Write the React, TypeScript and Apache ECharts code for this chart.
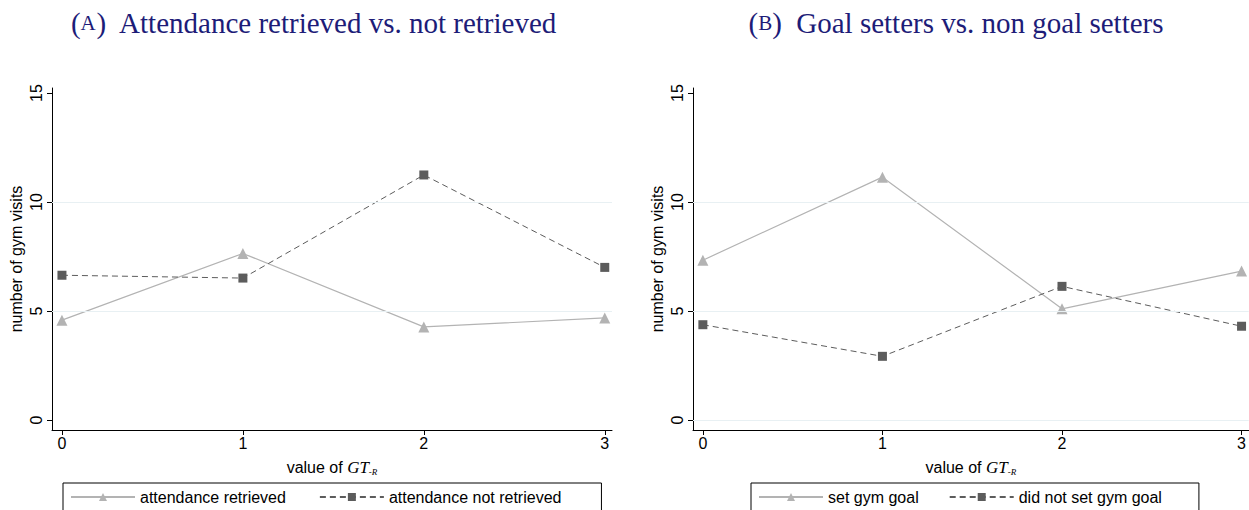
import React, { useEffect, useRef } from "react";
import * as echarts from "echarts";

const xValues = [0, 1, 2, 3];
const xTickLabels = ["0", "1", "2", "3"];
const yTickValues = [0, 5, 10, 15];

const panelATitle = "Attendance retrieved vs. not retrieved";
const panelBTitle = "Goal setters vs. non goal setters";

const retrievedName = "attendance retrieved";
const notRetrievedName = "attendance not retrieved";
const retrieved = [4.58, 7.64, 4.27, 4.68];
const notRetrieved = [6.64, 6.51, 11.24, 7.0];

const setGoalName = "set gym goal";
const notSetGoalName = "did not set gym goal";
const setGoal = [7.33, 11.14, 5.1, 6.83];
const notSetGoal = [4.37, 2.92, 6.13, 4.3];

const SANS = "'Liberation Sans', Arial, sans-serif";
const SERIF = "'Liberation Serif', 'DejaVu Serif', serif";
const LIGHT = "#b3b3b3";
const DARK = "#5c5c5c";
const GRIDC = "#e8f0f3";
const TITLEC = "#1d1c78";

const pairs = (ys: number[]) => xValues.map((x, i) => [x, ys[i]]);

export default function App() {
  const ref = useRef<HTMLDivElement>(null);
  useEffect(() => {
    if (!ref.current) return;
    const chart = echarts.init(ref.current, undefined, { renderer: "svg" });

    const xAxisFor = (gridIndex: number) => ({
      type: "value",
      gridIndex,
      min: -0.055,
      max: 3.04,
      splitLine: { show: false },
      axisLine: { show: true, onZero: false, lineStyle: { color: "#000", width: 1 } },
      axisTick: { show: true, customValues: xValues, length: 5, lineStyle: { color: "#000" } },
      axisLabel: {
        customValues: xValues,
        formatter: (v: number) => xTickLabels[xValues.indexOf(Math.round(v))] ?? "",
        color: "#000",
        fontSize: 16,
        fontFamily: SANS,
        margin: 5,
      },
      name: "{a|value of }{b|GT}{c|-R}",
      nameLocation: "middle",
      nameGap: 28,
      nameTextStyle: {
        rich: {
          a: { fontFamily: SANS, fontSize: 16, color: "#000" },
          b: { fontFamily: SERIF, fontStyle: "italic", fontSize: 17, color: "#000" },
          c: { fontFamily: SERIF, fontStyle: "italic", fontSize: 9, color: "#000", padding: [9, 0, 0, 0] },
        },
      },
    });

    const yAxisFor = (gridIndex: number) => ({
      type: "value",
      gridIndex,
      min: -0.46,
      max: 15.23,
      splitLine: { show: false },
      axisLine: { show: true, onZero: false, lineStyle: { color: "#000", width: 1 } },
      axisTick: { show: true, customValues: yTickValues, length: 5, lineStyle: { color: "#000" } },
      axisLabel: {
        customValues: yTickValues,
        rotate: 90,
        color: "#000",
        fontSize: 16,
        fontFamily: SANS,
        margin: 8,
      },
      name: "number of gym visits",
      nameLocation: "middle",
      nameGap: 28,
      nameTextStyle: { fontFamily: SANS, fontSize: 16, color: "#000" },
    });

    const lightSeries = (name: string, data: number[], idx: number, grid: number[]) => ({
      name,
      type: "line",
      xAxisIndex: idx,
      yAxisIndex: idx,
      data: pairs(data),
      symbol: "triangle",
      symbolSize: 11,
      itemStyle: { color: LIGHT },
      lineStyle: { color: LIGHT, width: 1.2, type: "solid" },
      markLine: {
        silent: true,
        symbol: "none",
        label: { show: false },
        lineStyle: { color: GRIDC, width: 1, type: "solid" },
        data: grid.map((v) => ({ yAxis: v })),
      },
      z: 3,
    });

    const darkSeries = (name: string, data: number[], idx: number) => ({
      name,
      type: "line",
      xAxisIndex: idx,
      yAxisIndex: idx,
      data: pairs(data),
      symbol: "rect",
      symbolSize: 9,
      itemStyle: { color: DARK },
      lineStyle: { color: DARK, width: 1, type: [6, 4] },
      z: 4,
    });

    const titleStyle = {
      fontWeight: "normal",
      rich: {
        p: { fontFamily: SERIF, fontSize: 29, fontWeight: "normal", color: TITLEC },
        s: { fontFamily: SERIF, fontSize: 21, fontWeight: "normal", color: TITLEC },
      },
    };

    const legendBase = {
      top: 483,
      orient: "horizontal",
      borderColor: "#000",
      borderWidth: 1,
      itemHeight: 10,
      textStyle: { fontFamily: SANS, fontSize: 16, color: "#000" },
    };

    chart.setOption({
      animation: false,
      backgroundColor: "#fff",
      title: [
        {
          text: "{p|(}{s|A}{p|)  " + panelATitle + "}",
          left: 309,
          textAlign: "center",
          top: 3,
          textStyle: titleStyle,
        },
        {
          text: "{p|(}{s|B}{p|)  " + panelBTitle + "}",
          left: 951,
          textAlign: "center",
          top: 3,
          textStyle: titleStyle,
        },
      ],
      grid: [
        { left: 52, top: 88, width: 560, height: 342 },
        { left: 693, top: 88, width: 560, height: 342 },
      ],
      xAxis: [xAxisFor(0), xAxisFor(1)],
      yAxis: [yAxisFor(0), yAxisFor(1)],
      legend: [
        {
          ...legendBase,
          data: [retrievedName, notRetrievedName],
          left: 63,
          padding: [6, 40, 20, 7],
          itemWidth: 64,
          itemGap: 33,
        },
        {
          ...legendBase,
          data: [setGoalName, notSetGoalName],
          left: 751,
          padding: [6, 37, 20, 7],
          itemWidth: 64,
          itemGap: 30,
        },
      ],
      series: [
        lightSeries(retrievedName, retrieved, 0, [5, 10]),
        darkSeries(notRetrievedName, notRetrieved, 0),
        lightSeries(setGoalName, setGoal, 1, [0, 5, 10]),
        darkSeries(notSetGoalName, notSetGoal, 1),
      ],
    });
    return () => chart.dispose();
  }, []);
  return (
    <div
      ref={ref}
      style={{ position: "fixed", left: 0, top: 0, width: 1249, height: 510 }}
    />
  );
}
